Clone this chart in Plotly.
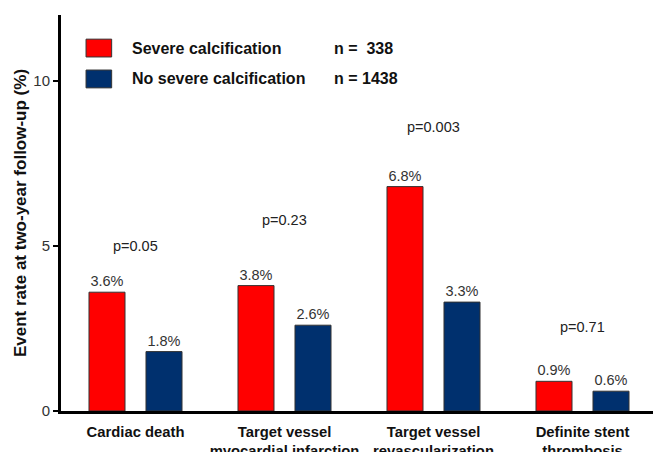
import plotly.graph_objects as go

categories = ["Cardiac death", "Target vessel<br>myocardial infarction",
              "Target vessel<br>revascularization", "Definite stent<br>thrombosis"]
severe = [3.6, 3.8, 6.8, 0.9]
no_severe = [1.8, 2.6, 3.3, 0.6]
p_values = ["p=0.05", "p=0.23", "p=0.003", "p=0.71"]
p_y = [5.0, 5.8, 8.6, 2.55]
series_names = ["Severe calcification", "No severe calcification"]
series_n = ["n =\u00a0\u00a0338", "n = 1438"]
y_ticks = [0, 5, 10]

RED = "#FF0000"
BLUE = "#00306E"
FONT = "Liberation Sans, Arial, sans-serif"

xs = list(range(len(categories)))

fig = go.Figure()
fig.add_trace(go.Bar(
    x=xs, y=severe, name=series_names[0],
    marker=dict(color=RED, line=dict(color="#333333", width=1)),
    text=[f"{v:.1f}%" for v in severe], textposition="outside",
    textfont=dict(size=14.5, color="#333333", family=FONT), cliponaxis=False,
))
fig.add_trace(go.Bar(
    x=xs, y=no_severe, name=series_names[1],
    marker=dict(color=BLUE, line=dict(color="#333333", width=1)),
    text=[f"{v:.1f}%" for v in no_severe], textposition="outside",
    textfont=dict(size=14.5, color="#333333", family=FONT), cliponaxis=False,
))

for i, (pt, py) in enumerate(zip(p_values, p_y)):
    fig.add_annotation(x=i, y=py, text=pt, showarrow=False, xref="x", yref="y",
                       font=dict(size=14.5, color="#222222", family=FONT))

# custom legend
legend_rows = [(0.939, 0.894, RED), (0.861, 0.816, BLUE)]
for (y1, y0, col), name, n in zip(legend_rows, series_names, series_n):
    fig.add_shape(type="rect", xref="paper", yref="paper", x0=0.042, x1=0.085,
                  y0=y0, y1=y1, fillcolor=col, line=dict(color="#333333", width=1))
    ym = (y0 + y1) / 2
    fig.add_annotation(x=0.115, y=ym, xref="paper", yref="paper", text=f"<b>{name}</b>",
                       showarrow=False, xanchor="left", yanchor="middle",
                       font=dict(size=16, color="#111111", family=FONT))
    fig.add_annotation(x=0.455, y=ym, xref="paper", yref="paper", text=f"<b>{n}</b>",
                       showarrow=False, xanchor="left", yanchor="middle",
                       font=dict(size=16, color="#111111", family=FONT))

# page body has an 8px margin, so the figure's origin sits at (8, 8) in the window
fig.update_layout(
    width=661, height=452,
    margin=dict(l=53, r=12, t=7, b=49),
    paper_bgcolor="white", plot_bgcolor="white",
    showlegend=False,
    barmode="group", bargap=0.235, bargroupgap=0.368,
    font=dict(family=FONT, color="#222222"),
)
fig.update_xaxes(
    range=[-0.5, 3.5], tickmode="array", tickvals=xs,
    ticktext=[f"<b>{c}</b>" for c in categories],
    showline=True, linecolor="black", linewidth=3,
    ticks="outside", ticklen=5, tickcolor="rgba(0,0,0,0)",
    tickfont=dict(size=14.8, color="#111111", family=FONT),
    showgrid=False, zeroline=False, automargin=False,
)
fig.update_yaxes(
    range=[0, 12], tickmode="array", tickvals=y_ticks,
    showline=True, linecolor="black", linewidth=3,
    ticks="outside", ticklen=5, tickwidth=2, tickcolor="black",
    tickfont=dict(size=15, color="#333333", family=FONT),
    showgrid=False, zeroline=False, automargin=False,
    title=dict(text="<b>Event rate at two-year follow-up (%)</b>", standoff=3,
               font=dict(size=17, color="#111111", family=FONT)),
)

fig.write_html("out.html")
